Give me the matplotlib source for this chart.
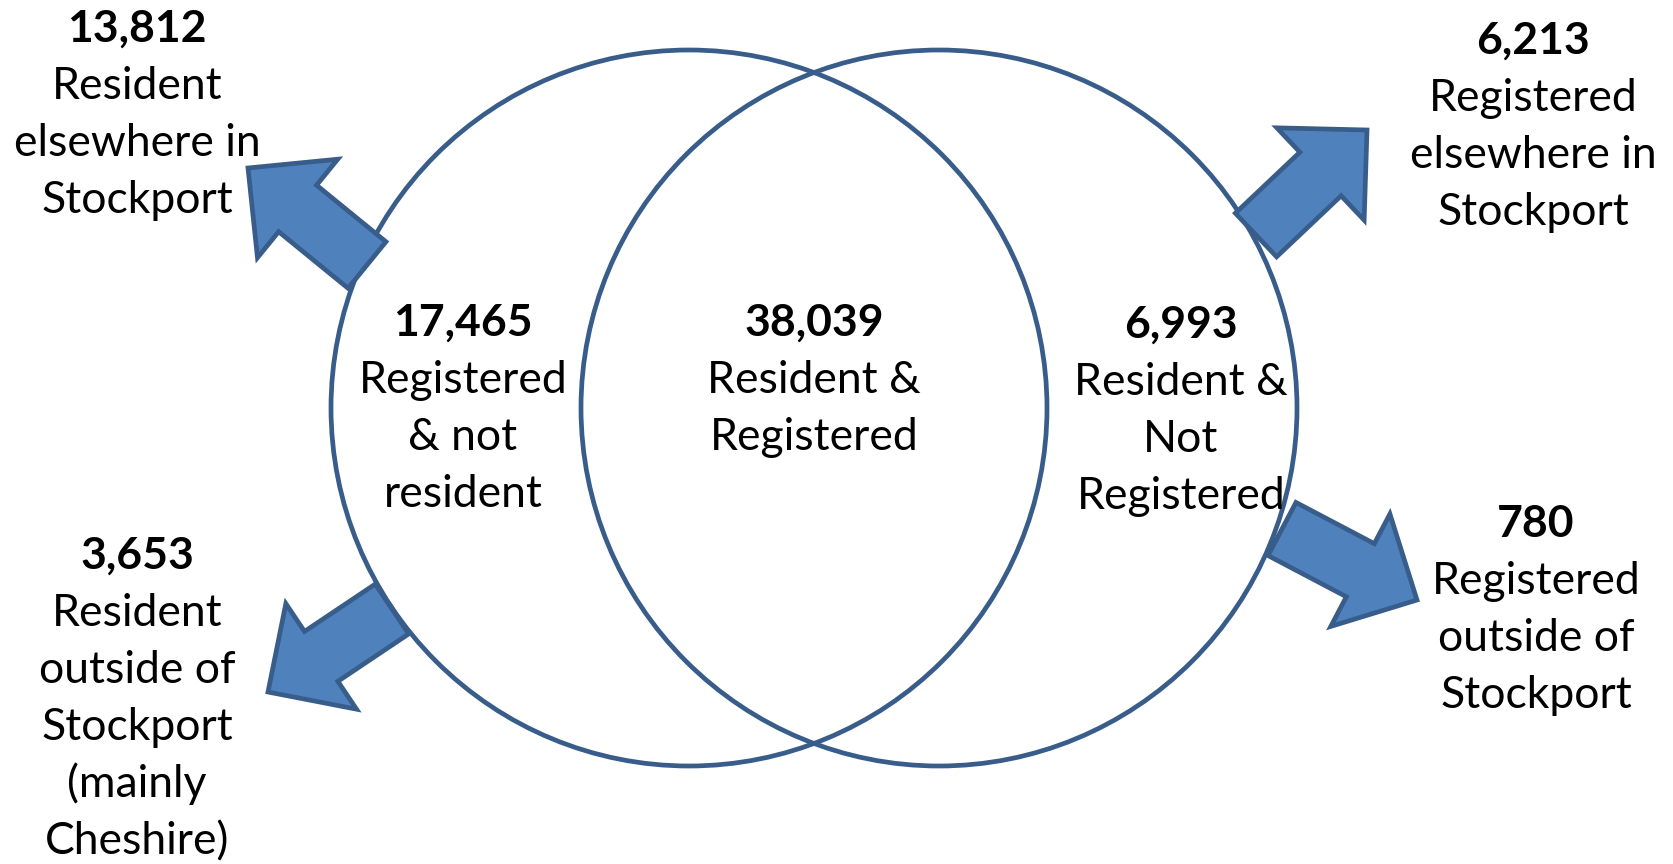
import matplotlib.pyplot as plt
from matplotlib.patches import Circle, Polygon
import numpy as np

# values
region_counts = ['17,465', '38,039', '6,993']
region_labels = [['Registered', '& not', 'resident'],
                 ['Resident &', 'Registered'],
                 ['Resident &', 'Not', 'Registered']]
flow_counts = ['13,812', '6,213', '3,653', '780']
flow_labels = [['Resident', 'elsewhere in', 'Stockport'],
               ['Registered', 'elsewhere in', 'Stockport'],
               ['Resident', 'outside of', 'Stockport', '(mainly', 'Cheshire)'],
               ['Registered', 'outside of', 'Stockport']]

# layout (pixels, y down)
W, H = 1673, 864
circle_centres = [(689, 408), (939, 408)]
radius = 358
region_pos = [(463, 320), (814, 320), (1181, 322)]
flow_pos = [(137, 26), (1533, 38), (137, 553), (1536, 521)]
# arrows: (tail centre, tip)
arrows = [((367, 265), (248, 168)),
          ((1256, 235), (1367, 130)),
          ((392, 609), (268, 692)),
          ((1282, 529), (1417, 600))]

line_gap = 57
cap_half = 16
edge_col = '#385D8A'
fill_col = '#4F81BD'
font = 'Lato'
fsize = 32

fig = plt.figure(figsize=(W / 100, H / 100), dpi=100)
ax = fig.add_axes([0, 0, 1, 1])
ax.set_xlim(0, W)
ax.set_ylim(H, 0)
ax.set_aspect('equal')
ax.axis('off')

for c in circle_centres:
    ax.add_patch(Circle(c, radius, fill=False, edgecolor=edge_col, linewidth=3.4, zorder=2))


def block_arrow(tail, tip, shaft_w=60, head_w=127, head_len=64):
    tail = np.array(tail, float)
    tip = np.array(tip, float)
    d = tip - tail
    L = np.hypot(*d)
    u = d / L
    n = np.array([-u[1], u[0]])
    neck = tip - u * head_len
    pts = [tail + n * shaft_w / 2,
           neck + n * shaft_w / 2,
           neck + n * head_w / 2,
           tip,
           neck - n * head_w / 2,
           neck - n * shaft_w / 2,
           tail - n * shaft_w / 2]
    return Polygon(pts, closed=True, facecolor=fill_col, edgecolor=edge_col,
                   linewidth=3.4, joinstyle='miter', zorder=3)


for tail, tip in arrows:
    ax.add_patch(block_arrow(tail, tip))


def draw_block(x, y, count, lines):
    ax.text(x, y + cap_half, count, ha='center', va='baseline',
            fontsize=fsize, fontweight='bold', family=font, zorder=4)
    for i, s in enumerate(lines):
        ax.text(x, y + cap_half + (i + 1) * line_gap, s, ha='center', va='baseline',
                fontsize=fsize, family=font, zorder=4)


for (x, y), cnt, lab in zip(region_pos, region_counts, region_labels):
    draw_block(x, y, cnt, lab)

for (x, y), cnt, lab in zip(flow_pos, flow_counts, flow_labels):
    draw_block(x, y, cnt, lab)

fig.savefig('out.png', dpi=100)
